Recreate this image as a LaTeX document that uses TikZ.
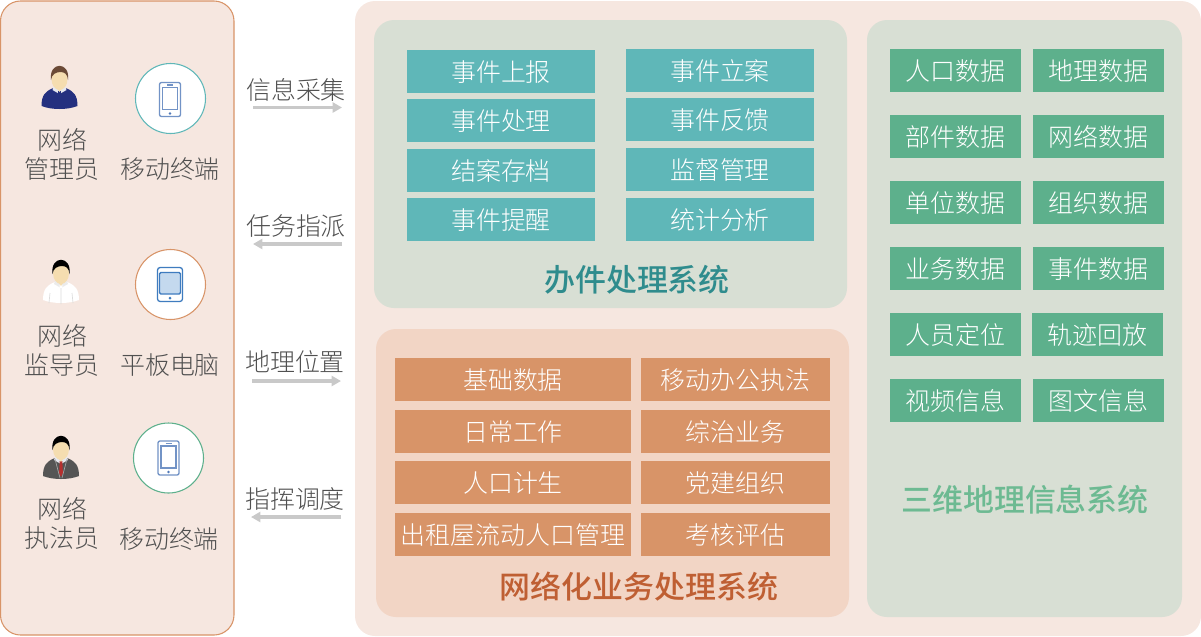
\documentclass[tikz,border=0pt]{standalone}
\usepackage{fontspec}
\setmainfont{Noto Sans CJK SC Light}
\newfontfamily\titlefont{Noto Sans CJK SC Medium}
\usetikzlibrary{arrows.meta}
\definecolor{panelpink}{HTML}{F6E7E0}
\definecolor{panelgreen}{HTML}{D8DFD4}
\definecolor{panelorange}{HTML}{F2D5C5}
\definecolor{teal1}{HTML}{5FB7B8}
\definecolor{orange1}{HTML}{D89468}
\definecolor{green1}{HTML}{5DB08C}
\definecolor{txt}{HTML}{505050}
\definecolor{arrowgray}{HTML}{C9C9C9}
\definecolor{iconblue}{HTML}{4F78B8}
\definecolor{tabletblue}{HTML}{3F7CBF}
\definecolor{tabletfill}{HTML}{C4D9EE}
\definecolor{skincol}{HTML}{F5DDB0}
\definecolor{navy}{HTML}{24307F}
\definecolor{hairbrown}{HTML}{6B4A36}
\definecolor{suit}{HTML}{555555}
\definecolor{tiered}{HTML}{B5302F}
\definecolor{collarw}{HTML}{E6E8F0}
\definecolor{seam}{HTML}{DCDCDC}
\definecolor{titleteal}{HTML}{2F8C8D}
\definecolor{titleorange}{HTML}{BF5F33}
\definecolor{titlegreen}{HTML}{6DBA92}
\tikzset{
  x=0.75pt,y=-0.75pt,
  box/.style={minimum height=32.25pt,inner sep=0pt,text=white,text height=17.5pt,text depth=1.8pt,font=\fontsize{18.7pt}{20pt}\selectfont},
  tealbox/.style={box,fill=teal1,minimum width=141pt},
  orangebox/.style={box,fill=orange1},
  greenbox/.style={box,fill=green1,minimum width=98.25pt},
  lab/.style={text=txt,inner sep=0pt,text height=17.5pt,text depth=1.8pt,font=\fontsize{18.7pt}{20pt}\selectfont},
  ttl/.style={inner sep=0pt,font=\fontsize{23.2pt}{25pt}\titlefont},
  fat/.style={draw=arrowgray,line width=2.6pt,-{Triangle[length=7pt,width=7.5pt]}},
  termcircle/.style={circle,fill=white,line width=0.8pt,minimum size=52.5pt,inner sep=0pt}
}
\newcommand{\person}[6]{% x,y,body,hair,collar,tiecolor
  \begin{scope}[shift={(#1,#2)}]
    \fill[#3] (-18,35) .. controls (-18,24) and (-14,20) .. (-6,17) -- (6,17) .. controls (14,20) and (18,24) .. (18,35) .. controls (8,39) and (-8,39) .. (-18,35) -- cycle;
    \fill[#5] (-7,19) -- (-5,13) -- (5,13) -- (7,19) -- (0,23) -- cycle;
    \fill[#6] (-1.3,20) -- (1.3,20) -- (1.9,32) -- (0,36) -- (-1.9,32) -- cycle;
    \fill[skincol] (0,8) ellipse (8 and 11);
    \fill[skincol] (-4,15) -- (4,15) -- (0,21) -- cycle;
    \fill[#4] (-8.5,9) .. controls (-11,-10) and (11,-10) .. (8.5,9) .. controls (8,3) and (5,1) .. (1,1) .. controls (-3,1) and (-8,3) .. (-8.5,9) -- cycle;
  \end{scope}
}
\begin{document}
\begin{tikzpicture}
\useasboundingbox (0,0) rectangle (1201,636);
% panels
\filldraw[fill=panelpink,draw=orange1,line width=0.8pt,rounded corners=15pt] (0.5,1) rectangle (234,635);
\fill[panelpink,rounded corners=15pt] (355,1) rectangle (1201,636);
\fill[panelgreen,rounded corners=15pt] (374,20) rectangle (847,308);
\fill[panelorange,rounded corners=15pt] (376,329) rectangle (849,617);
\fill[panelgreen,rounded corners=15pt] (867,20) rectangle (1182,617);
% teal
\node[tealbox] (t1) at (501,71.5) {事件上报};
\node[tealbox] (t2) at (501,120.5) {事件处理};
\node[tealbox] (t3) at (501,170.5) {结案存档};
\node[tealbox] (t4) at (501,219.5) {事件提醒};
\node[tealbox] (t5) at (720,70.5) {事件立案};
\node[tealbox] (t6) at (720,119.5) {事件反馈};
\node[tealbox] (t7) at (720,169.5) {监督管理};
\node[tealbox] (t8) at (720,219) {统计分析};
\node[ttl,text=titleteal] (tt) at (637,280) {办件处理系统};
% orange
\node[orangebox,minimum width=177pt] (o1) at (513,379.5) {基础数据};
\node[orangebox,minimum width=177pt] (o2) at (513,431) {日常工作};
\node[orangebox,minimum width=177pt] (o3) at (513,482.5) {人口计生};
\node[orangebox,minimum width=177pt] (o4) at (513,534.5) {出租屋流动人口管理};
\node[orangebox,minimum width=141.75pt] (o5) at (735.5,379.5) {移动办公执法};
\node[orangebox,minimum width=141.75pt] (o6) at (735.5,431) {综治业务};
\node[orangebox,minimum width=141.75pt] (o7) at (735.5,482.5) {党建组织};
\node[orangebox,minimum width=141.75pt] (o8) at (735.5,534.5) {考核评估};
\node[ttl,text=titleorange] (ot) at (639,587) {网络化业务处理系统};
% green
\node[greenbox] (g1) at (955.5,70.5) {人口数据};
\node[greenbox] (g2) at (955.5,136.5) {部件数据};
\node[greenbox] (g3) at (955.5,202.5) {单位数据};
\node[greenbox] (g4) at (955.5,268.5) {业务数据};
\node[greenbox] (g5) at (955.5,334.5) {人员定位};
\node[greenbox] (g6) at (955.5,400.5) {视频信息};
\node[greenbox] (g7) at (1098.5,70.5) {地理数据};
\node[greenbox] (g8) at (1098.5,136.5) {网络数据};
\node[greenbox] (g9) at (1098.5,202.5) {组织数据};
\node[greenbox] (g10) at (1098.5,268.5) {事件数据};
\node[greenbox] (g11) at (1097.5,334.5) {轨迹回放};
\node[greenbox] (g12) at (1098.5,400.5) {图文信息};
\node[ttl,text=titlegreen] (gt) at (1025,500) {三维地理信息系统};
% persons
\person{59.5}{71}{navy}{hairbrown}{collarw}{navy}
\person{61}{265}{white}{black}{white!92!black}{white}
\draw[seam,line width=0.5pt] (50,293) -- (49,303) (72,293) -- (73,303) (61,288) -- (61,304);
\person{61}{441}{suit}{black}{collarw}{tiered}
\draw[black!35,line width=0.5pt] (55,459) -- (60,478) (67,459) -- (62,478);
\node[lab] (n1a) at (62,139) {网络};
\node[lab] (n1b) at (62,168) {管理员};
\node[lab] (n2a) at (62,335) {网络};
\node[lab] (n2b) at (62,364) {监导员};
\node[lab] (n3a) at (62,508) {网络};
\node[lab] (n3b) at (62,537) {执法员};
% terminals
\node[termcircle,draw=teal1] (c1) at (170.5,98.5) {};
\node[termcircle,draw=orange1] (c2) at (170.5,284.5) {};
\node[termcircle,draw=green1] (c3) at (168.5,458) {};
\node[lab] (m1) at (170,168) {移动终端};
\node[lab] (m2) at (170,364) {平板电脑};
\node[lab] (m3) at (169,538) {移动终端};
% phone 1
\begin{scope}[shift={(170,99.5)},draw=iconblue!80!white,line width=0.8pt]
\draw[rounded corners=1.5pt,line width=1pt] (-10.5,-17) rectangle (10.5,17);
\draw (-7.5,-12) rectangle (7.5,10);
\draw (-3,-14.5) -- (3,-14.5);
\fill[iconblue] (0,14) circle (1.4);
\end{scope}
% tablet
\begin{scope}[shift={(170,284.5)},draw=tabletblue,line width=1pt]
\draw[rounded corners=2pt] (-12.5,-17) rectangle (12.5,17);
\draw[fill=tabletfill,rounded corners=1pt] (-10.5,-12) rectangle (10.5,9.5);
\fill[tabletblue] (0,13.5) circle (1.5);
\end{scope}
% phone 2
\begin{scope}[shift={(168.5,458)},draw=iconblue!80!white,line width=0.8pt]
\draw[rounded corners=1.5pt,line width=1pt] (-10.5,-17) rectangle (10.5,17);
\draw (-7.5,-12) rectangle (7.5,10);
\draw (-3,-14.5) -- (3,-14.5);
\fill[iconblue] (0,14) circle (1.4);
\end{scope}
% arrows
\node[lab] (a1) at (296,89) {信息采集};
\node[lab] (a2) at (296,225) {任务指派};
\node[lab] (a3) at (295,361) {地理位置};
\node[lab] (a4) at (295,498) {指挥调度};
\coordinate (a1s) at (253,107.5); \coordinate (a1e) at (342,107.5);
\coordinate (a2s) at (342,244); \coordinate (a2e) at (253,244);
\coordinate (a3s) at (252,381); \coordinate (a3e) at (341,381);
\coordinate (a4s) at (341,517); \coordinate (a4e) at (251,517);
\draw[fat] (a1s) -- (a1e);
\draw[fat] (a2s) -- (a2e);
\draw[fat] (a3s) -- (a3e);
\draw[fat] (a4s) -- (a4e);
\end{tikzpicture}
\end{document}
